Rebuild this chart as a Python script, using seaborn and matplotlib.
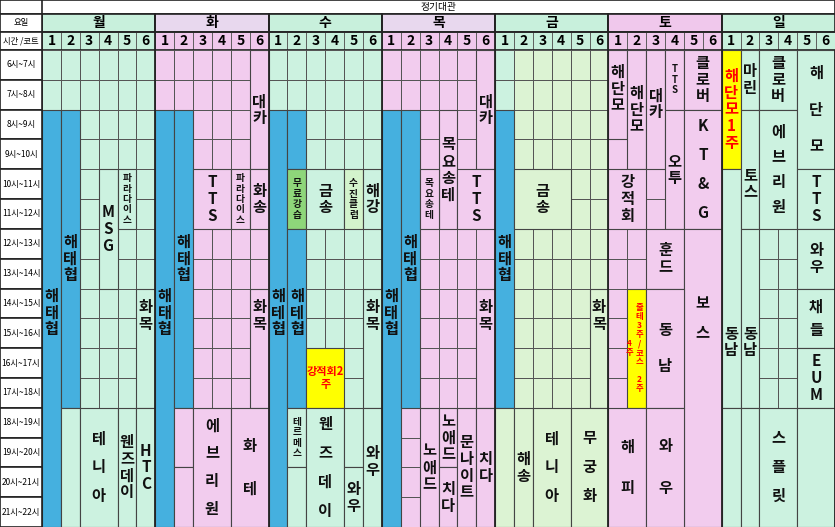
import matplotlib
matplotlib.use("Agg")
import matplotlib.pyplot as plt
from matplotlib.patches import Rectangle
from matplotlib.colors import ListedColormap
import numpy as np
import seaborn as sns

plt.rcParams['font.family'] = ['Noto Sans CJK KR', 'DejaVu Sans']

title = "정기대관"
days = ["월", "화", "수", "목", "금", "토", "일"]
courts = ["1", "2", "3", "4", "5", "6"]
hours = [f"{h}시~{h+1}시" for h in range(6, 22)]
day_head_colors = ["#c8f0dc", "#e8d8ee", "#c8f0dc", "#e8d8ee", "#c8f0dc", "#f0c8ec", "#c8f0dc"]
court_head_colors = ["#c8f0dc", "#f0c8ec", "#c8f0dc", "#f0c8ec", "#c8f0dc", "#f0c8ec", "#c8f0dc"]
# base cell color code per day: 0 mint, 1 pink, 2 light green
day_base = [0, 1, 0, 1, 2, 1, 0]

COL = {"mint": "#ccf2e0", "pink": "#f2ccee", "lg": "#dcf3d3", "blue": "#45b0df",
       "yel": "#ffff00", "grn": "#8ed67a", "lg2": "#d3f3cc"}

# (day, court_start(0-based), court_span, hour_start(0=6시), hour_span, label, color, options)
blocks = [
    # 월
    (0, 0, 1, 2, 14, "해태협", "blue", {"ly": 8.8}),
    (0, 1, 1, 2, 10, "해태협", "blue", {"ly": 7.0}),
    (0, 1, 1, 12, 4, "", "mint", {}),
    (0, 3, 1, 4, 4, "MSG", "mint", {}),
    (0, 4, 1, 4, 2, "파라다이스", "mint", {"fs": 7}),
    (0, 5, 1, 8, 4, "화목", "mint", {"ly": 8.9}),
    (0, 2, 2, 12, 4, "테니아", "mint", {"sp": 2.0}),
    (0, 4, 1, 12, 4, "웬즈데이", "mint", {}),
    (0, 5, 1, 12, 4, "HTC", "mint", {}),
    # 화
    (1, 0, 1, 2, 14, "해태협", "blue", {"ly": 8.8}),
    (1, 1, 1, 2, 10, "해태협", "blue", {"ly": 7.0}),
    (1, 1, 1, 12, 2, "", "pink", {}),
    (1, 1, 1, 14, 2, "", "pink", {}),
    (1, 5, 1, 0, 4, "대카", "pink", {}),
    (1, 2, 2, 4, 2, "TTS", "pink", {}),
    (1, 4, 1, 4, 2, "파라다이스", "pink", {"fs": 7}),
    (1, 5, 1, 4, 2, "화송", "pink", {}),
    (1, 5, 1, 8, 4, "화목", "pink", {"ly": 8.9}),
    (1, 2, 2, 12, 4, "에브리원", "pink", {"sp": 1.9}),
    (1, 4, 2, 12, 4, "화테", "pink", {"sp": 3.0}),
    # 수
    (2, 0, 1, 2, 14, "해테협", "blue", {"ly": 8.8}),
    (2, 1, 1, 2, 2, "", "blue", {}),
    (2, 1, 1, 4, 2, "무료강습", "grn", {"fs": 7}),
    (2, 1, 1, 6, 6, "해테협", "blue", {"ly": 8.8}),
    (2, 2, 2, 4, 2, "금송", "mint", {}),
    (2, 4, 1, 4, 2, "수진클럽", "lg2", {"fs": 7}),
    (2, 5, 1, 4, 2, "해강", "mint", {}),
    (2, 5, 1, 8, 4, "화목", "mint", {"ly": 8.9}),
    (2, 2, 2, 10, 2, "강적회2\n주", "yel", {"h": True, "c": "red", "fs": 8}),
    (2, 1, 1, 12, 2, "테르메스", "mint", {"fs": 7}),
    (2, 1, 1, 14, 2, "", "mint", {}),
    (2, 2, 2, 12, 4, "웬즈데이", "mint", {"sp": 2.0}),
    (2, 4, 1, 12, 2, "", "mint", {}),
    (2, 4, 1, 14, 2, "와우", "mint", {}),
    (2, 5, 1, 12, 4, "와우", "mint", {"ly": 13.8}),
    # 목
    (3, 0, 1, 2, 14, "해태협", "blue", {"ly": 8.8}),
    (3, 1, 1, 2, 10, "해태협", "blue", {"ly": 7.0}),
    (3, 5, 1, 0, 4, "대카", "pink", {}),
    (3, 3, 1, 2, 4, "목요송테", "pink", {}),
    (3, 2, 1, 4, 2, "목요송테", "pink", {"fs": 7}),
    (3, 4, 2, 4, 2, "TTS", "pink", {}),
    (3, 5, 1, 8, 4, "화목", "pink", {"ly": 8.9}),
    (3, 2, 1, 12, 4, "노애드", "pink", {}),
    (3, 3, 1, 12, 2, "노애드", "pink", {}),
    (3, 3, 1, 14, 2, "치다", "pink", {}),
    (3, 4, 1, 12, 4, "문나이트", "pink", {}),
    (3, 5, 1, 12, 4, "치다", "pink", {}),
    # 금
    (4, 0, 1, 2, 10, "해태협", "blue", {"ly": 7.0}),
    (4, 0, 1, 12, 4, "", "lg", {}),
    (4, 1, 3, 4, 2, "금송", "lg", {}),
    (4, 5, 1, 8, 4, "화목", "lg", {"ly": 8.9}),
    (4, 1, 1, 12, 4, "해송", "lg", {}),
    (4, 2, 2, 12, 4, "테니아", "lg", {"sp": 2.0}),
    (4, 4, 2, 12, 4, "무궁화", "lg", {"sp": 2.0}),
    # 토
    (5, 0, 1, 0, 3, "해단모", "pink", {"ly": 1.3}),
    (5, 1, 1, 0, 4, "해단모", "pink", {"ly": 2.0}),
    (5, 2, 1, 0, 4, "대카", "pink", {"ly": 1.8}),
    (5, 3, 1, 0, 2, "TTS", "pink", {"fs": 7}),
    (5, 3, 1, 2, 4, "오투", "pink", {"ly": 4.0}),
    (5, 4, 2, 0, 2, "클로버", "pink", {}),
    (5, 4, 2, 2, 4, "KT&G", "pink", {"sp": 2.0}),
    (5, 0, 2, 4, 2, "강적회", "pink", {}),
    (5, 2, 2, 6, 2, "훈드", "pink", {}),
    (5, 4, 2, 6, 10, "보스", "pink", {"ly": 9.0, "sp": 2.0}),
    (5, 1, 1, 8, 4, "줄\n테\n3\n주\n/\n코\n스\n\n2\n주", "yel", {"h": True, "c": "red", "fs": 6, "dx": 0.15}),
    (5, 2, 2, 8, 4, "동남", "pink", {"sp": 2.5}),
    (5, 0, 2, 12, 4, "해피", "pink", {"sp": 3.0}),
    (5, 2, 2, 12, 4, "와우", "pink", {"sp": 3.0}),
    # 일
    (6, 0, 1, 0, 4, "해단모1주", "yel", {"c": "red"}),
    (6, 0, 1, 4, 8, "동남", "mint", {"ly": 9.8}),
    (6, 0, 1, 12, 4, "", "mint", {}),
    (6, 1, 1, 0, 2, "마린", "mint", {}),
    (6, 1, 1, 2, 4, "토스", "mint", {"ly": 4.5}),
    (6, 1, 1, 6, 6, "동남", "mint", {"ly": 9.8}),
    (6, 1, 1, 12, 4, "", "mint", {}),
    (6, 2, 2, 0, 2, "클로버", "mint", {}),
    (6, 2, 2, 2, 4, "에브리원", "mint", {"sp": 1.7}),
    (6, 2, 2, 12, 4, "스플릿", "mint", {"sp": 2.0}),
    (6, 4, 2, 0, 4, "해단모", "mint", {"sp": 2.6}),
    (6, 4, 2, 4, 2, "TTS", "mint", {}),
    (6, 4, 2, 6, 2, "와우", "mint", {}),
    (6, 4, 2, 8, 2, "채들", "mint", {"sp": 1.6}),
    (6, 4, 2, 10, 2, "EUM", "mint", {}),
    (6, 4, 2, 12, 4, "", "mint", {}),
]

W, H = 835, 527
LW, HH = 42, 50
fig = plt.figure(figsize=(W / 100, H / 100), dpi=100)

# base grid via seaborn heatmap
base = np.array([[day_base[c // 6] if not (c // 6 == 4 and c % 6 == 0) else 0
                  for c in range(42)] for r in range(16)])
ax = fig.add_axes([LW / W, 0, (W - LW) / W, (H - HH) / H])
sns.heatmap(base, ax=ax, cmap=ListedColormap([COL["mint"], COL["pink"], COL["lg"]]),
            vmin=-0.5, vmax=2.5, cbar=False, linewidths=0.6, linecolor="#555555",
            xticklabels=False, yticklabels=False)
for d, c0, cw, r0, rh, lab, col, o in blocks:
    x = d * 6 + c0
    ax.add_patch(Rectangle((x, r0), cw, rh, facecolor=COL[col], edgecolor="#444444", lw=0.8, zorder=3))
    if lab:
        fs = o.get("fs", 11)
        ly = o.get("ly", r0 + rh / 2)
        if o.get("h"):
            txt = lab
            ls = 1.0
        else:
            txt = "\n".join(list(lab))
            ls = o.get("sp", 1.05)
        ax.text(x + cw / 2 + o.get("dx", 0), ly, txt, ha="center", va="center", fontsize=fs,
                fontweight="bold", color=o.get("c", "#111111"), linespacing=ls, zorder=4)
ax.text(5 * 6 + 1.12, 10.0, "4\n주", ha="center", va="center", fontsize=6,
        fontweight="bold", color="red", linespacing=1.0, zorder=5)
for d in range(8):
    ax.axvline(d * 6, color="#222222", lw=1.3, zorder=6)
ax.set_xlim(0, 42)
ax.set_ylim(16, 0)

# header
hx = fig.add_axes([LW / W, (H - HH) / H, (W - LW) / W, HH / H])
hx.set_xlim(0, 42); hx.set_ylim(50, 0); hx.axis("off")
hx.add_patch(Rectangle((0, 0), 42, 14, facecolor="white", edgecolor="#222", lw=1.2))
hx.text(21, 7, title, ha="center", va="center", fontsize=7)
for d, name in enumerate(days):
    hx.add_patch(Rectangle((d * 6, 14), 6, 18, facecolor=day_head_colors[d], edgecolor="#222", lw=1.2))
    hx.text(d * 6 + 3, 23, name, ha="center", va="center", fontsize=10, fontweight="bold")
    for c, cn in enumerate(courts):
        hx.add_patch(Rectangle((d * 6 + c, 32), 1, 18, facecolor=court_head_colors[d], edgecolor="#555", lw=0.6))
        hx.text(d * 6 + c + 0.5, 41, cn, ha="center", va="center", fontsize=10, fontweight="bold")
    hx.plot([d * 6, d * 6], [14, 50], color="#222", lw=1.3)
hx.plot([0, 42], [32, 32], color="#222", lw=1.2)
hx.plot([0, 42], [50, 50], color="#222", lw=1.2)

# left labels
lx = fig.add_axes([0, 0, LW / W, 1])
lx.set_xlim(0, LW); lx.set_ylim(H, 0); lx.axis("off")
lx.add_patch(Rectangle((0, 0), LW, 14, facecolor="white", edgecolor="#222", lw=1.2))
lx.add_patch(Rectangle((0, 14), LW, 18, facecolor="white", edgecolor="#222", lw=1.2))
lx.text(LW / 2, 23, "요일", ha="center", va="center", fontsize=6)
lx.add_patch(Rectangle((0, 32), LW, 18, facecolor="white", edgecolor="#222", lw=1.2))
lx.text(LW / 2, 41, "시간 /코트", ha="center", va="center", fontsize=6)
rh = (H - HH) / 16
for i, hname in enumerate(hours):
    y0 = HH + i * rh
    lx.add_patch(Rectangle((0, y0), LW, rh, facecolor="white", edgecolor="#222", lw=1.2))
    lx.text(LW / 2, y0 + rh / 2, hname, ha="center", va="center", fontsize=6)

fig.savefig("out.png", dpi=100)
